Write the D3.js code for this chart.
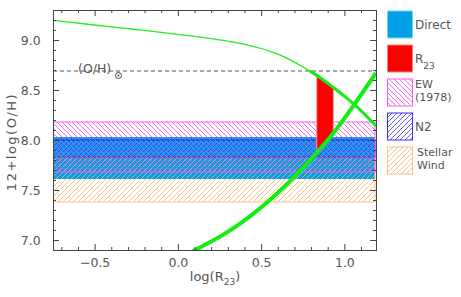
<!DOCTYPE html>
<html>
<head>
<meta charset="utf-8">
<script src="https://cdn.jsdelivr.net/npm/d3@7"></script>
<style>
body { margin: 0; background: #fff; }
text { font-family: "DejaVu Sans", sans-serif; fill: #555; }
</style>
</head>
<body>
<div class="chart"></div>
<script>
// abundance bands: [low, high] of 12+log(O/H)
const bandNames = ["Direct", "R23", "EW (1978)", "N2", "Stellar Wind"];
const directBand = [7.61, 8.03];
const stellarBand = [7.38, 7.83];
const n2Band = [7.83, 8.00];
const ewBand = [7.68, 8.18];
const solarOH = 8.69;

// R23 calibration, upper and lower branch
const upperX = [-0.75, -0.5, -0.25, 0.0, 0.25, 0.4, 0.5, 0.58, 0.65, 0.72, 0.793, 0.86, 0.934, 1.0, 1.074, 1.19];
const upperY = [9.197, 9.15, 9.105, 9.057, 9.002, 8.957, 8.915, 8.871, 8.822, 8.76, 8.689, 8.617, 8.525, 8.439, 8.334, 8.14];
const lowerX = [0.09, 0.25, 0.35, 0.45, 0.55, 0.65, 0.75, 0.85, 0.93, 1.07, 1.19];
const lowerY = [6.89, 7.031, 7.137, 7.259, 7.397, 7.55, 7.718, 7.902, 8.06, 8.38, 8.67];

// R23 region
const redX = [0.834, 0.934];
const redTop = [8.645, 8.525];
const redBottom = [7.87, 8.06];

const xMajor = [-0.5, 0.0, 0.5, 1.0];
const yMajor = [7.0, 7.5, 8.0, 8.5, 9.0];

const W = 461, H = 297;
const m = {left: 53, right: 376, top: 10, bottom: 250};

const x = d3.scaleLinear().domain([-0.75, 1.19]).range([m.left, m.right]);
const y = d3.scaleLinear().domain([6.9, 9.3]).range([m.bottom, m.top]);

const svg = d3.select("div.chart").append("svg")
    .attr("width", W).attr("height", H);

const defs = svg.append("defs");
function hatch(id, color, dir) {
    let p = defs.append("pattern").attr("id", id)
        .attr("patternUnits", "userSpaceOnUse")
        .attr("width", 5).attr("height", 5);
    let d = dir === "back"
        ? "M0,0L5,5M-1,4L1,6M4,-1L6,1"
        : "M0,5L5,0M-1,1L1,-1M4,6L6,4";
    p.append("path").attr("d", d).attr("stroke", color)
        .attr("stroke-width", 0.8).attr("fill", "none");
}
hatch("ew", "#ff44ff", "back");
hatch("n2", "#3333ff", "fwd");
hatch("sw", "#ffb366", "fwd");

defs.append("clipPath").attr("id", "plot").append("rect")
    .attr("x", m.left).attr("y", m.top)
    .attr("width", m.right - m.left).attr("height", m.bottom - m.top);

const plot = svg.append("g").attr("clip-path", "url(#plot)");

function band(b, fill, stroke) {
    plot.append("rect")
        .attr("x", x(-0.75)).attr("width", x(1.19) - x(-0.75) - 1)
        .attr("y", y(b[1])).attr("height", y(b[0]) - y(b[1]))
        .attr("fill", fill).attr("stroke", stroke).attr("stroke-width", 1);
}
band(directBand, "#00a0e6", "none");
band(stellarBand, "url(#sw)", "#ffc080");
band(n2Band, "url(#n2)", "#2020d0");
band(ewBand, "url(#ew)", "#ff55ff");

// solar line
plot.append("line")
    .attr("x1", m.left).attr("x2", m.right)
    .attr("y1", y(solarOH)).attr("y2", y(solarOH))
    .attr("stroke", "#555").attr("stroke-dasharray", "4,3");

// red R23 region
let redPts = redX.map((v, i) => [x(v), y(redTop[i])])
    .concat(redX.map((v, i) => [x(v), y(redBottom[i])]).reverse());
plot.append("polygon")
    .attr("points", redPts.map(p => p.join(",")).join(" "))
    .attr("fill", "#ff0000").attr("stroke", "#ff9a9a").attr("stroke-width", 1);

const line = d3.line().curve(d3.curveMonotoneX)
    .x(d => x(d[0])).y(d => y(d[1]));
let upper = upperX.map((v, i) => [v, upperY[i]]);
let lower = lowerX.map((v, i) => [v, lowerY[i]]);

plot.append("path").attr("d", line(upper))
    .attr("fill", "none").attr("stroke", "#22ee22").attr("stroke-width", 1.3);
plot.append("path").attr("d", line(upper.filter(d => d[0] >= 0.79)))
    .attr("fill", "none").attr("stroke", "#11ee11").attr("stroke-width", 3);
plot.append("path").attr("d", line(lower))
    .attr("fill", "none").attr("stroke", "#11ee11").attr("stroke-width", 4);

// (O/H) sun label
svg.append("text").attr("x", 78).attr("y", 73)
    .style("font-size", "12.5px").text("(O/H)");
svg.append("circle").attr("cx", 118.5).attr("cy", 75.5).attr("r", 3)
    .attr("fill", "none").attr("stroke", "#444").attr("stroke-width", 1);
svg.append("circle").attr("cx", 118.5).attr("cy", 75.5).attr("r", 1)
    .attr("fill", "#444");

// axes
let xMinor = d3.range(-0.7, 1.19, 0.1).map(v => +v.toFixed(2)).filter(v => !xMajor.includes(v));
let yMinor = d3.range(6.9, 9.3, 0.1).map(v => +v.toFixed(2)).filter(v => !yMajor.includes(v));
const fmt = d => d3.format(".1f")(d).replace("-", "\u2212");

function axis(gen, scale, ticks, size, pos, labels) {
    let a = gen(scale).tickValues(ticks).tickSize(size).tickPadding(labels ? 11 : 0)
        .tickFormat(labels ? fmt : "");
    let g = svg.append("g").attr("transform", pos).call(a);
    g.selectAll("line").attr("stroke", "#444");
    g.select(".domain").attr("stroke", "#444");
    g.selectAll("text").style("font-size", "12.5px").attr("fill", "#555")
        .style("font-family", "DejaVu Sans");
    return g;
}
axis(d3.axisBottom, x, xMajor, -6, `translate(0,${m.bottom})`, true).selectAll("text").attr("dy", "0.5em");
axis(d3.axisBottom, x, xMinor, -3, `translate(0,${m.bottom})`, false);
axis(d3.axisTop, x, xMajor, -6, `translate(0,${m.top})`, false);
axis(d3.axisTop, x, xMinor, -3, `translate(0,${m.top})`, false);
axis(d3.axisLeft, y, yMajor, -6, `translate(${m.left},0)`, true).selectAll("text").attr("dx", "-0.1em");
axis(d3.axisLeft, y, yMinor, -3, `translate(${m.left},0)`, false);
axis(d3.axisRight, y, yMajor, -6, `translate(${m.right},0)`, false);
axis(d3.axisRight, y, yMinor, -3, `translate(${m.right},0)`, false);

// axis titles
let xt = svg.append("text").attr("x", 215).attr("y", 281)
    .attr("text-anchor", "middle").style("font-size", "13px");
xt.append("tspan").text("log(R");
xt.append("tspan").attr("dy", 4).style("font-size", "9px").text("23");
xt.append("tspan").attr("dy", -4).text(")");

svg.append("text")
    .attr("transform", "translate(16,142) rotate(-90)")
    .attr("text-anchor", "middle").style("font-size", "13px")
    .style("letter-spacing", "1.5px")
    .text("12+log(O/H)");

// legend
const legFill = ["#00a0e6", "#ff0000", "url(#ew)", "url(#n2)", "url(#sw)"];
const legStroke = ["#7fd0f2", "#ff8080", "#ff55ff", "#3333ff", "#ffc080"];
const leg = svg.append("g");
bandNames.forEach((n, i) => {
    let y0 = 11 + i * 34;
    leg.append("rect").attr("x", 387.5).attr("y", y0)
        .attr("width", 25).attr("height", 27)
        .attr("fill", legFill[i]).attr("stroke", legStroke[i]);
    if (n === "R23") {
        let t = leg.append("text").attr("x", 415).attr("y", y0 + 18).style("font-size", "12px");
        t.append("tspan").text("R");
        t.append("tspan").attr("dy", 6).style("font-size", "9px").text("23");
    } else {
        let parts = n.split(" ");
        if (parts.length === 1) {
            leg.append("text").attr("x", 415).attr("y", y0 + 18)
                .style("font-size", "12px").text(n);
        } else {
            let tx = n === "Stellar Wind" ? 417 : 415;
            parts.forEach((p, j) => {
                leg.append("text").attr("x", tx).attr("y", y0 + 9 + j * 12.5)
                    .style("font-size", "11px").text(p);
            });
        }
    }
});
</script>
</body>
</html>
